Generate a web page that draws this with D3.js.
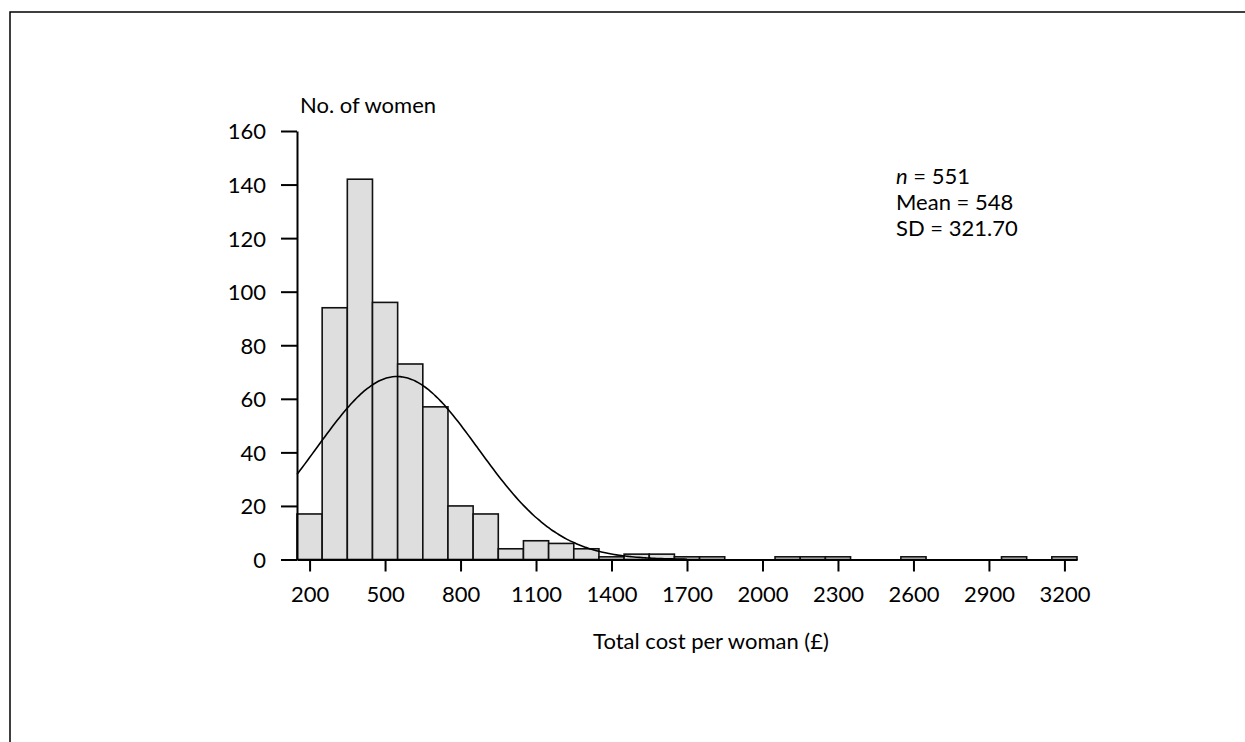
<!DOCTYPE html>
<html>
<head>
<meta charset="utf-8">
<script src="https://cdn.jsdelivr.net/npm/d3@7"></script>
<style>
  body { margin: 0; background: #fff; }
  svg { display: block; font-family: Lato, "Open Sans", sans-serif; }
  .axis path, .axis line { stroke: #000; stroke-width: 2; }
  .axis text { font-size: 22px; fill: #000; font-family: Lato, sans-serif; }
</style>
</head>
<body>
<svg id="chart" width="1245" height="742"></svg>
<script>
// histogram bins (centre of each 100-wide bin) and counts
const binCentres = [200, 300, 400, 500, 600, 700, 800, 900, 1000, 1100, 1200, 1300, 1400,
  1500, 1600, 1700, 1800, 1900, 2000, 2100, 2200, 2300, 2400, 2500, 2600, 2700, 2800,
  2900, 3000, 3100, 3200];
const counts = [17, 94, 142, 96, 73, 57, 20, 17, 4, 7, 6, 4, 1,
  2, 2, 1, 1, 0, 0, 1, 1, 1, 0, 0, 1, 0, 0,
  0, 1, 0, 1];
const binWidth = 100;

const xTicks = [200, 500, 800, 1100, 1400, 1700, 2000, 2300, 2600, 2900, 3200];
const yTicks = [0, 20, 40, 60, 80, 100, 120, 140, 160];

// summary stats printed on the chart, also used for the fitted normal curve
const nWomen = 551;
const meanCost = 548;
const sdCost = 321.70;

const svg = d3.select('#chart');

// outer frame (cut off on the right and bottom)
svg.append('path')
  .attr('d', 'M10,742V12H1245')
  .attr('fill', 'none')
  .attr('stroke', '#000')
  .attr('stroke-width', 1.5);

const x = d3.scaleLinear().domain([150, 3250]).range([297, 1077]);
const y = d3.scaleLinear().domain([0, 160]).range([559.5, 131]);

// bars
svg.append('g')
  .selectAll('rect')
  .data(binCentres.map((c, i) => ({ c, v: counts[i] })).filter(d => d.v > 0))
  .enter()
  .append('rect')
  .attr('x', d => x(d.c - binWidth / 2))
  .attr('width', d => x(d.c + binWidth / 2) - x(d.c - binWidth / 2))
  .attr('y', d => y(d.v))
  .attr('height', d => y(0) - y(d.v))
  .attr('fill', '#dedede')
  .attr('stroke', '#111')
  .attr('stroke-width', 1.6);

// fitted normal curve, scaled to counts per bin
const normal = v => nWomen * binWidth / (sdCost * Math.sqrt(2 * Math.PI)) *
  Math.exp(-0.5 * Math.pow((v - meanCost) / sdCost, 2));
const curveX = d3.range(150, 1701, 10);
svg.append('path')
  .datum(curveX)
  .attr('d', d3.line().x(d => x(d)).y(d => y(normal(d))).curve(d3.curveMonotoneX))
  .attr('fill', 'none')
  .attr('stroke', '#000')
  .attr('stroke-width', 1.6);

// axes
const yAxis = svg.append('g')
  .attr('class', 'axis')
  .attr('transform', `translate(${x(150)},0)`)
  .call(d3.axisLeft(y).tickValues(yTicks).tickSize(16).tickSizeOuter(0).tickPadding(15));
yAxis.selectAll('text').attr('dy', '0.36em');

const xAxis = svg.append('g')
  .attr('class', 'axis')
  .attr('transform', `translate(0,${y(0)})`)
  .call(d3.axisBottom(x).tickValues(xTicks).tickSize(12).tickSizeOuter(0).tickFormat(d3.format('d')));
xAxis.selectAll('text').attr('y', 42.5).attr('dy', 0);

// axis titles
svg.append('text')
  .attr('x', 300)
  .attr('y', 113)
  .attr('font-size', 22)
  .text('No. of women');

svg.append('text')
  .attr('x', 711)
  .attr('y', 649)
  .attr('text-anchor', 'middle')
  .attr('font-size', 22)
  .text('Total cost per woman (£)');

// summary box
const stats = svg.append('g').attr('font-size', 22);
const t1 = stats.append('text').attr('x', 896).attr('y', 184);
t1.append('tspan').attr('font-style', 'italic').text('n');
t1.append('tspan').text(` = ${nWomen}`);
stats.append('text').attr('x', 896).attr('y', 210).text(`Mean = ${meanCost}`);
stats.append('text').attr('x', 896).attr('y', 236).text(`SD = ${sdCost.toFixed(2)}`);
</script>
</body>
</html>
